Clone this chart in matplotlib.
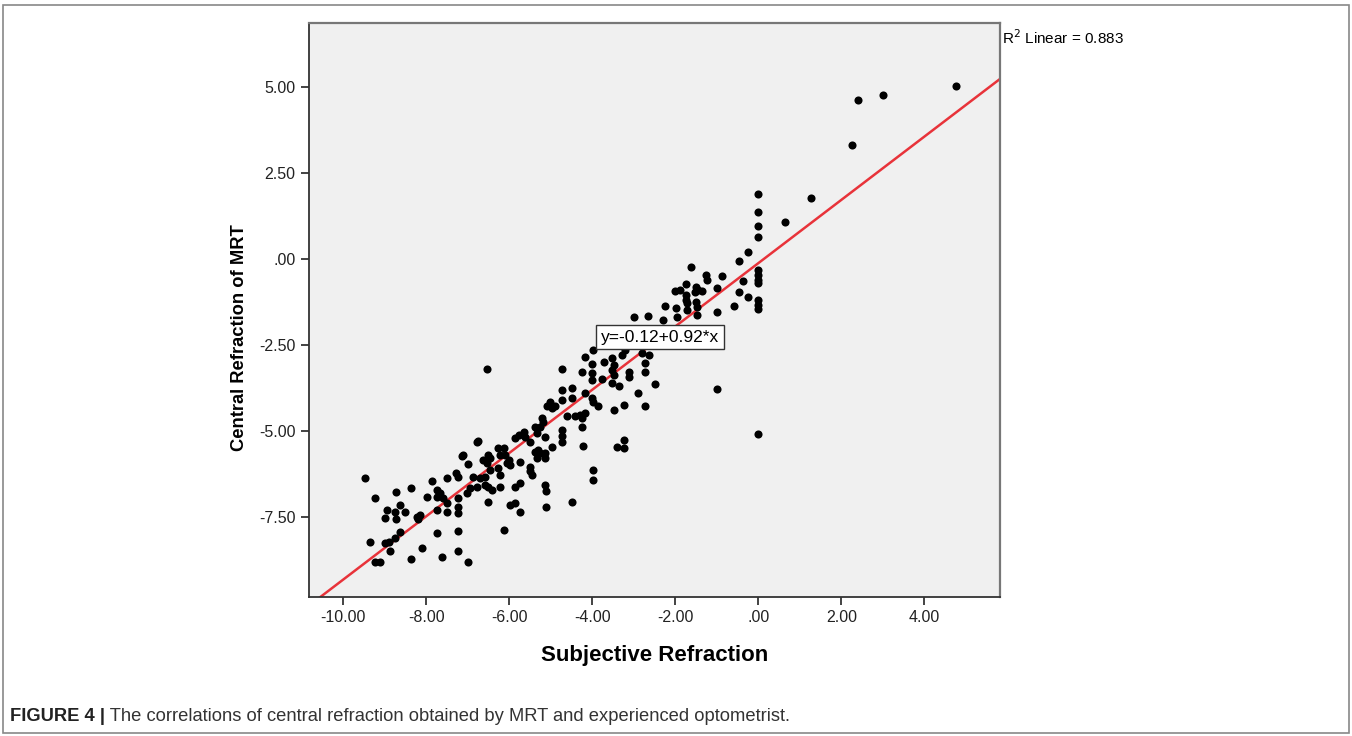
import matplotlib.pyplot as plt
import numpy as np
from matplotlib.patches import Rectangle

plt.rcParams['font.family'] = ['Liberation Sans', 'DejaVu Sans']

# subjective refraction (x) and central refraction of MRT (y)
subj = [-9.49, -9.23, -8.74, -8.37, -7.87, -7.50, -7.13, -6.99, -6.79, -7.28,
        -7.24, -6.87, -8.95, -8.99, -8.76, -8.72, -8.64, -8.51, -8.23, -8.15,
        -8.19, -7.99, -7.75, -7.75, -7.67, -7.59, -7.75, -7.51, -7.51, -7.23,
        -7.23, -7.23, -7.03, -6.95, -8.64, -9.37, -8.99, -8.91, -8.75, -8.88,
        -7.75, -7.23, -8.11, -7.23, -9.23, -9.11, -8.37, -7.62, -6.99,
        -6.75, -7.11, -6.63, -6.51, -6.47, -6.54, -6.27, -6.14, -6.22, -6.10,
        -6.02, -5.98, -6.06, -5.86, -5.78, -5.66, -5.62, -5.74, -5.50, -5.38,
        -5.34, -5.26, -5.50, -5.50, -5.46, -5.38, -5.30, -5.26, -5.34, -5.14,
        -6.47, -6.27, -6.22, -6.71, -6.59, -6.79, -6.59, -6.51, -6.42, -6.22,
        -6.51, -5.86, -5.74, -5.98, -5.86, -5.74, -6.14, -5.14, -5.12, -5.12,
        -4.50, -3.99, -3.99, -4.26, -4.23, -4.74, -4.74, -4.74, -3.49, -3.41,
        -2.25, -1.98, -1.73, -1.73, -1.48, -2.99, -2.65, -1.97, -3.98, -4.18,
        -4.01, -3.73, -3.53, -3.49, -3.29, -3.21, -4.74, -4.26, -4.01, -4.01,
        -3.77, -3.53, -3.49, -3.53, -3.37, -3.13, -3.13, -2.81, -2.73, -2.73,
        -2.49, -2.89, -2.73, -4.74, -4.50, -4.50, -4.74, -5.02, -5.10, -4.98,
        -4.90, -4.18, -4.01, -3.98, -3.86, -4.30, -4.18, -4.26, -4.42, -4.62,
        -3.25, -5.22, -5.18, -5.14, -4.98, -5.14, -3.25, -3.25,
        0.00, -0.24, -0.48, -1.62, -1.26, -1.24, -0.88, 0.00, 0.00, 0.00,
        0.00, -0.36, -0.48, -0.24, 0.00, 0.00, 0.00, -1.74, -2.01, -1.89,
        -1.50, -1.45, -1.36, -1.53, -1.00, -1.74, -1.74, -1.50, -1.48, -1.00,
        -0.60, -2.29, -2.63, -1.00,
        0.00, 0.00, 0.00, 1.27, 0.64, 4.76, 3.01, 2.39, 2.25, 0.00, -6.54]
mrt = [-6.37, -6.94, -6.79, -6.67, -6.45, -6.36, -5.72, -5.96, -5.31, -6.23,
       -6.33, -6.33, -7.30, -7.54, -7.35, -7.56, -7.15, -7.35, -7.49, -7.44,
       -7.56, -6.91, -6.72, -6.91, -6.81, -6.95, -7.30, -7.10, -7.35, -6.95,
       -7.20, -7.40, -6.81, -6.67, -7.93, -8.22, -8.27, -8.22, -8.12, -8.50,
       -7.96, -7.90, -8.41, -8.48, -8.80, -8.80, -8.73, -8.66, -8.80,
       -5.28, -5.70, -5.84, -5.70, -5.79, -5.94, -5.50, -5.50, -5.70, -5.70,
       -5.84, -5.99, -5.94, -5.21, -5.12, -5.02, -5.17, -5.89, -5.31, -4.88,
       -5.07, -4.88, -6.04, -6.18, -6.28, -5.60, -5.55, -5.65, -5.79, -5.79,
       -6.13, -6.08, -6.28, -6.37, -6.33, -6.62, -6.57, -6.62, -6.72, -6.62,
       -7.06, -6.62, -6.52, -7.15, -7.10, -7.35, -7.88, -6.57, -6.76, -7.20,
       -7.06, -6.13, -6.44, -4.88, -5.44, -4.97, -5.15, -5.31, -4.39, -5.46,
       -1.37, -1.43, -1.29, -1.48, -1.39, -1.68, -1.66, -1.68, -2.65, -2.84,
       -3.05, -2.99, -2.89, -3.08, -2.79, -2.65, -3.21, -3.28, -3.32, -3.52,
       -3.50, -3.23, -3.37, -3.61, -3.69, -3.28, -3.42, -2.74, -3.03, -3.28,
       -3.63, -3.90, -4.27, -3.81, -3.76, -4.05, -4.10, -4.15, -4.29, -4.34,
       -4.29, -3.90, -4.05, -4.15, -4.29, -4.53, -4.49, -4.63, -4.58, -4.58,
       -4.24, -4.63, -4.73, -5.17, -5.46, -5.65, -5.26, -5.50,
       0.65, 0.21, -0.05, -0.24, -0.47, -0.61, -0.51, -0.32, -0.47, -0.61,
       -0.71, -0.63, -0.95, -1.10, -1.19, -1.34, -1.46, -0.73, -0.92, -0.90,
       -0.81, -0.90, -0.92, -0.95, -0.85, -1.05, -1.19, -1.24, -1.63, -1.53,
       -1.37, -1.77, -2.79, -3.79,
       1.89, 1.36, 0.97, 1.76, 1.07, 5.04, 4.77, 4.62, 3.31, -5.09, -3.20]

intercept = -0.12
slope = 0.92
r2 = 0.883

fig = plt.figure(figsize=(13.52, 7.36), dpi=100)
fig.patches.append(Rectangle((3 / 1352, 3 / 736), 1346 / 1352, 728 / 736,
                             transform=fig.transFigure, fill=False,
                             edgecolor='#888888', linewidth=1.2))

ax = fig.add_axes([308.5 / 1352, 1 - 597 / 736, 691.5 / 1352, 574.3 / 736])
ax.set_facecolor('#f0f0f0')
ax.set_xlim(-10.84, 5.82)
ax.set_ylim(-9.83, 6.87)

ax.scatter(subj, mrt, s=34, color='black', zorder=3, linewidths=0)

xl = np.array(ax.get_xlim())
ax.plot(xl, intercept + slope * xl, color='#e8333a', linewidth=1.8, zorder=2)

ax.set_xticks([-10, -8, -6, -4, -2, 0, 2, 4])
ax.set_xticklabels(['-10.00', '-8.00', '-6.00', '-4.00', '-2.00', '.00', '2.00', '4.00'])
ax.set_yticks([-7.5, -5, -2.5, 0, 2.5, 5])
ax.set_yticklabels(['-7.50', '-5.00', '-2.50', '.00', '2.50', '5.00'])
ax.tick_params(direction='out', length=6, width=1.2, labelsize=11.5, colors='#222222')

for side in ['left', 'bottom']:
    ax.spines[side].set_color('#333333')
    ax.spines[side].set_linewidth(1.3)
for side in ['top', 'right']:
    ax.spines[side].set_color('#777777')
    ax.spines[side].set_linewidth(1.6)

ax.set_xlabel('Subjective Refraction', fontsize=16, fontweight='bold', labelpad=14)
ax.set_ylabel('Central Refraction of MRT', fontsize=13.2, fontweight='bold')
ax.yaxis.set_label_coords(-0.087, 0.451)

ax.text(-2.37, -2.27, 'y=-0.12+0.92*x', fontsize=12.5, ha='center', va='center',
        zorder=4, bbox=dict(boxstyle='square,pad=0.28', facecolor='white',
                            edgecolor='#333333', linewidth=1))
ax.text(1.003, 0.99, 'R$^2$ Linear = %.3f' % r2, transform=ax.transAxes,
        fontsize=11, ha='left', va='top')

t1 = fig.text(10 / 1352, 1 - 721 / 736, 'FIGURE 4 |', fontsize=13.2, fontweight='bold',
              color='#222222')
ax.annotate(' The correlations of central refraction obtained by MRT and experienced optometrist.',
            xy=(1, 0), xycoords=t1, fontsize=13.2, color='#333333', va='bottom')

fig.savefig('out.png', dpi=100)
